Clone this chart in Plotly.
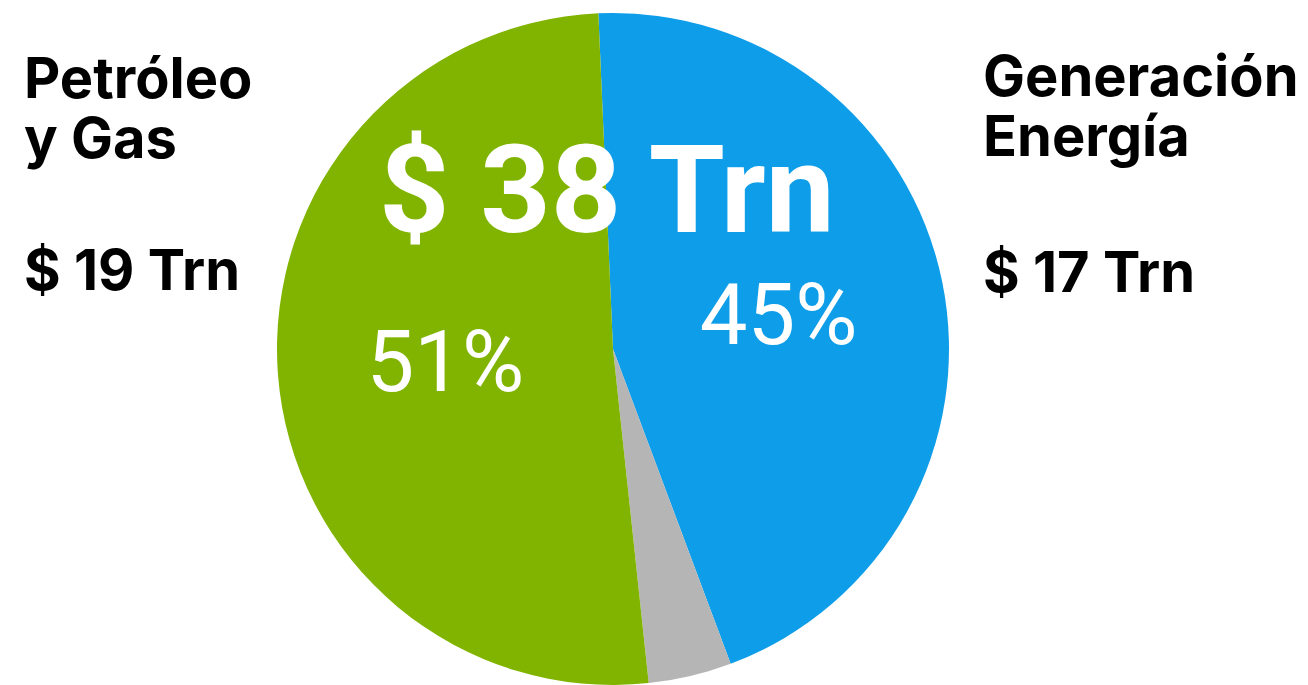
import plotly.graph_objects as go

# Shares of the total (percent), clockwise from the top
sectors = ["Generación Energía", "Otros", "Petróleo y Gas"]
shares = [45, 4, 51]
colors = ["#0E9DE8", "#B5B5B5", "#80B400"]
slice_text = ["%{percent:.0%}", "", "%{percent:.0%}"]

# Side captions: sector name lines and amount in trillions
left_lines = ["Petróleo", "y Gas"]
left_amount = 19
right_lines = ["Generación", "Energía"]
right_amount = 17
total_amount = 38

W, H = 1308, 685
FONT = "Roboto"
SIDE_FONT = "Inter"

fig = go.Figure(
    go.Pie(
        labels=sectors,
        values=shares,
        sort=False,
        direction="clockwise",
        rotation=-2.5,
        marker=dict(colors=colors, line=dict(width=0)),
        texttemplate=slice_text,
        textposition="inside",
        insidetextorientation="horizontal",
        insidetextfont=dict(family=FONT, size=85, color="white"),
        hoverinfo="label+percent",
        domain=dict(x=[0.2, 0.7373], y=[0, 1 - 13 / H]),
        showlegend=False,
    )
)


def px(x):
    return x / W


def py(y):
    return 1 - y / H


annotations = []
bold = dict(family=SIDE_FONT, size=56, color="black", weight="bold")

for text, y in zip(left_lines, [77.5, 137.5]):
    annotations.append(dict(text=text, x=px(22), y=py(y), xanchor="left", yanchor="middle", font=bold))
annotations.append(dict(text=f"$ {left_amount} Trn", x=px(22), y=py(270), xanchor="left", yanchor="middle", font=bold))

for text, y in zip(right_lines, [76, 136]):
    annotations.append(dict(text=text, x=px(981), y=py(y), xanchor="left", yanchor="middle", font=bold))
annotations.append(dict(text=f"$ {right_amount} Trn", x=px(981), y=py(272), xanchor="left", yanchor="middle", font=bold))

annotations.append(
    dict(
        text=f"$ {total_amount} Trn",
        x=px(607),
        y=py(190),
        xanchor="center",
        yanchor="middle",
        font=dict(family=FONT, size=123, color="white", weight="bold"),
    )
)

for a in annotations:
    a.update(xref="paper", yref="paper", showarrow=False)

fig.update_layout(
    width=W,
    height=H,
    margin=dict(l=0, r=0, t=0, b=0),
    paper_bgcolor="white",
    plot_bgcolor="white",
    annotations=annotations,
)

fig.write_html("out.html")
